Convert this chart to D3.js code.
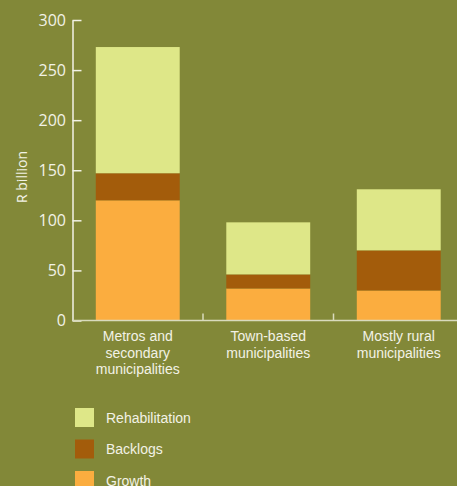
<!DOCTYPE html>
<html>
<head>
<meta charset="utf-8">
<script src="https://cdn.jsdelivr.net/npm/d3@7"></script>
<style>
  html, body { margin: 0; padding: 0; background: #828838; }
  svg { display: block; }
</style>
</head>
<body>
<svg id="chart" width="457" height="486"></svg>
<script>
// Investment need by municipality type, R billion
const categories = [
  ["Metros and", "secondary", "municipalities"],
  ["Town-based", "municipalities"],
  ["Mostly rural", "municipalities"]
];
const seriesNames = ["Growth", "Backlogs", "Rehabilitation"];
const growth = [120, 32, 30];
const backlogs = [27, 14, 40];
const rehabilitation = [126, 52, 61];
const yTicks = [0, 50, 100, 150, 200, 250, 300];
const legendOrder = ["Rehabilitation", "Backlogs", "Growth"];

const colors = {
  Growth: "#fbad3f",
  Backlogs: "#a35c0b",
  Rehabilitation: "#dee788"
};

const W = 457, H = 486;
const svg = d3.select("#chart");
const textColor = "#f2f2e6";

const keys = categories.map((c, i) => "c" + i);
const rows = keys.map((k, i) => ({
  key: k,
  Growth: growth[i],
  Backlogs: backlogs[i],
  Rehabilitation: rehabilitation[i]
}));

const x = d3.scaleBand().domain(keys).range([72.5, 464]).padding(0);
const y = d3.scaleLinear().domain([0, 300]).range([320.5, 20]);
const barW = x.bandwidth() * 0.643;

const stack = d3.stack().keys(seriesNames)(rows);

// stacked bars
svg.append("g").selectAll("g")
  .data(stack)
  .join("g")
  .attr("fill", d => colors[d.key])
  .selectAll("rect")
  .data(d => d)
  .join("rect")
  .attr("x", d => x(d.data.key) + (x.bandwidth() - barW) / 2)
  .attr("width", barW)
  .attr("y", d => y(d[1]))
  .attr("height", d => y(d[0]) - y(d[1]));

// y axis: ticks point inward
const yAxis = svg.append("g")
  .attr("transform", "translate(72.5,0)")
  .call(d3.axisRight(y).tickValues(yTicks).tickSize(9).tickSizeOuter(0).tickFormat(""));
yAxis.selectAll("path, line").attr("stroke", textColor).attr("stroke-width", 1.5);

svg.append("g").selectAll("text")
  .data(yTicks)
  .join("text")
  .attr("x", 66)
  .attr("y", d => y(d))
  .attr("dy", "0.36em")
  .attr("text-anchor", "end")
  .attr("fill", textColor)
  .style("font-family", "'Open Sans', sans-serif")
  .style("font-size", "16px")
  .text(d => d);

// x axis baseline and separators between categories
svg.append("line")
  .attr("x1", 72.5).attr("x2", W)
  .attr("y1", y(0)).attr("y2", y(0))
  .attr("stroke", "#d9dbbd").attr("stroke-width", 1.5);

svg.append("g").selectAll("line")
  .data(keys.slice(1))
  .join("line")
  .attr("x1", d => x(d)).attr("x2", d => x(d))
  .attr("y1", y(0)).attr("y2", y(0) - 7)
  .attr("stroke", "#d9dbbd").attr("stroke-width", 1.5);

// category labels
const catLabels = svg.append("g").selectAll("text")
  .data(categories)
  .join("text")
  .attr("x", (d, i) => x(keys[i]) + x.bandwidth() / 2)
  .attr("y", 341)
  .attr("text-anchor", "middle")
  .attr("fill", textColor)
  .style("font-family", "'Liberation Sans', Arial, sans-serif")
  .style("font-size", "14px");
catLabels.selectAll("tspan")
  .data(d => d)
  .join("tspan")
  .attr("x", function () { return d3.select(this.parentNode).attr("x"); })
  .attr("dy", (d, i) => i === 0 ? 0 : 16.5)
  .text(d => d);

// y axis title
svg.append("text")
  .attr("transform", "translate(27,177) rotate(-90)")
  .attr("text-anchor", "middle")
  .attr("fill", textColor)
  .style("font-family", "'Open Sans', sans-serif")
  .style("font-size", "14px")
  .text("R billion");

// legend
const legend = svg.append("g").selectAll("g")
  .data(legendOrder)
  .join("g")
  .attr("transform", (d, i) => `translate(75,${408 + i * 31.5})`);
legend.append("rect")
  .attr("width", 19).attr("height", 19)
  .attr("fill", d => colors[d]);
legend.append("text")
  .attr("x", 31).attr("y", 9.5).attr("dy", "0.36em")
  .attr("fill", textColor)
  .style("font-family", "'Liberation Sans', Arial, sans-serif")
  .style("font-size", "14px")
  .text(d => d);
</script>
</body>
</html>
